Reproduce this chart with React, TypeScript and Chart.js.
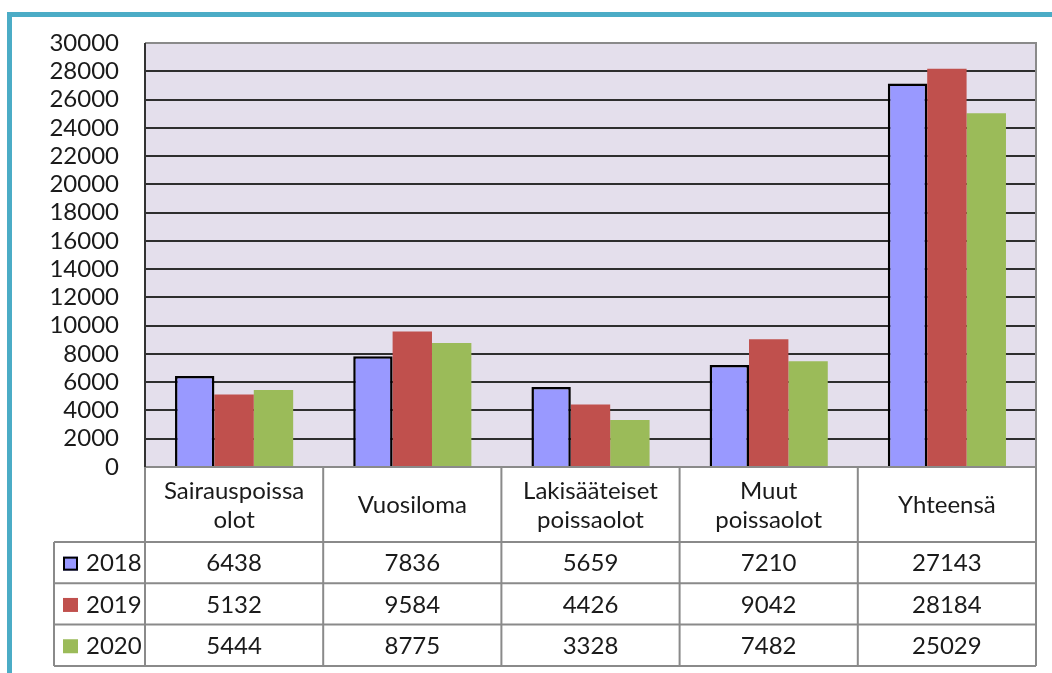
import React, { useEffect, useRef } from "react";
import { Chart, registerables } from "chart.js";

Chart.register(...registerables);

const categories: string[][] = [
  ["Sairauspoissa", "olot"],
  ["Vuosiloma"],
  ["Lakisääteiset", "poissaolot"],
  ["Muut", "poissaolot"],
  ["Yhteensä"],
];
const seriesLabels = ["2018", "2019", "2020"];
const values2018 = [6438, 7836, 5659, 7210, 27143];
const values2019 = [5132, 9584, 4426, 9042, 28184];
const values2020 = [5444, 8775, 3328, 7482, 25029];
const yMin = 0;
const yMax = 30000;
const yStep = 2000;

const seriesColors = ["#9999FF", "#C0504D", "#9BBB59"];
const FONT = "Lato";
const FONT_SIZE = 24;
const TEXT = "#1a1a1a";
const TABLE_LINE = "#8a8a8a";

const allSeries = [values2018, values2019, values2020];

const framePlugin = {
  id: "frameAndTable",
  beforeDraw(chart: any) {
    const { ctx, chartArea: a, width, height } = chart;
    ctx.save();
    ctx.fillStyle = "#ffffff";
    ctx.fillRect(0, 0, width, height);
    ctx.strokeStyle = "#4BACC6";
    ctx.lineWidth = 5;
    ctx.beginPath();
    ctx.moveTo(9.5, height + 10);
    ctx.lineTo(9.5, 14.5);
    ctx.lineTo(width + 10, 14.5);
    ctx.stroke();
    ctx.fillStyle = "#E4DFEC";
    ctx.fillRect(a.left, a.top, a.right - a.left, a.bottom - a.top);
    ctx.restore();
  },
  afterDraw(chart: any) {
    const { ctx, chartArea: a } = chart;
    const n = categories.length;
    const cw = (a.right - a.left) / n;
    const headerH = 75;
    const rowH = 41.3;
    const legendLeft = 54;
    const top = a.bottom;
    const hb = top + headerH;
    const tb = hb + rowH * allSeries.length;
    ctx.save();
    ctx.strokeStyle = TABLE_LINE;
    ctx.lineWidth = 2;
    ctx.beginPath();
    ctx.moveTo(a.left, a.top);
    ctx.lineTo(a.right, a.top);
    ctx.lineTo(a.right, a.bottom);
    ctx.stroke();
    ctx.beginPath();
    ctx.moveTo(a.left, top);
    ctx.lineTo(a.right, top);
    for (let r = 0; r <= allSeries.length; r++) {
      const y = hb + r * rowH;
      ctx.moveTo(legendLeft, y);
      ctx.lineTo(a.right, y);
    }
    for (let i = 0; i <= n; i++) {
      const x = a.left + i * cw;
      ctx.moveTo(x, top);
      ctx.lineTo(x, tb);
    }
    ctx.moveTo(legendLeft, hb);
    ctx.lineTo(legendLeft, tb);
    ctx.stroke();
    ctx.strokeStyle = "#333333";
    ctx.beginPath();
    ctx.moveTo(a.left, a.top);
    ctx.lineTo(a.left, a.bottom);
    ctx.stroke();

    ctx.fillStyle = TEXT;
    ctx.font = `${FONT_SIZE}px ${FONT}`;
    ctx.textAlign = "center";
    ctx.textBaseline = "middle";
    const lh = 29;
    categories.forEach((lines, i) => {
      const cx = a.left + (i + 0.5) * cw;
      const mid = top + headerH / 2 + 1;
      lines.forEach((t, j) => {
        const y = mid + (j - (lines.length - 1) / 2) * lh;
        ctx.fillText(t, cx, y);
      });
    });
    allSeries.forEach((vals, r) => {
      const cy = hb + (r + 0.5) * rowH + 1;
      vals.forEach((v, i) => {
        const cx = a.left + (i + 0.5) * cw;
        ctx.fillText(String(v), cx, cy);
      });
      ctx.fillStyle = seriesColors[r];
      ctx.fillRect(63, cy - 7, 15, 14);
      if (r === 0) {
        ctx.strokeStyle = "#000";
        ctx.lineWidth = 2;
        ctx.strokeRect(64, cy - 6, 13, 12);
      }
      ctx.fillStyle = TEXT;
      ctx.textAlign = "left";
      ctx.fillText(seriesLabels[r], 86, cy);
      ctx.textAlign = "center";
    });
    ctx.restore();
  },
};

export default function App() {
  const ref = useRef<HTMLCanvasElement>(null);
  useEffect(() => {
    if (!ref.current) return;
    const chart = new Chart(ref.current, {
      type: "bar",
      data: {
        labels: categories.map((c) => c.join(" ")),
        datasets: allSeries.map((vals, i) => ({
          label: seriesLabels[i],
          data: vals,
          backgroundColor: seriesColors[i],
          borderColor: i === 0 ? "#000000" : seriesColors[i],
          borderWidth: i === 0 ? 2.5 : 0,
          borderSkipped: "bottom",
          categoryPercentage: 0.663,
          barPercentage: 1,
        })),
      },
      options: {
        responsive: false,
        animation: false,
        layout: { padding: { top: 43, right: 16, bottom: 206, left: 0 } },
        plugins: {
          legend: { display: false },
          tooltip: { enabled: false },
        },
        scales: {
          x: { display: false },
          y: {
            min: yMin,
            max: yMax,
            afterFit: (s: any) => {
              s.width = 145;
            },
            border: { display: false },
            grid: {
              drawTicks: false,
              lineWidth: 2,
              color: (c: any) =>
                c.tick && (c.tick.value === yMax || c.tick.value === yMin) ? "rgba(0,0,0,0)" : "#2e2e2e",
            },
            ticks: {
              stepSize: yStep,
              autoSkip: false,
              padding: 26,
              color: TEXT,
              font: { family: FONT, size: FONT_SIZE },
              callback: (v: any) => String(v),
            },
          },
        },
      },
      plugins: [framePlugin],
    });
    return () => chart.destroy();
  }, []);
  return (
    <div style={{ position: "absolute", left: 0, top: 0 }}>
      <canvas ref={ref} width={1052} height={673} style={{ display: "block" }} />
    </div>
  );
}
